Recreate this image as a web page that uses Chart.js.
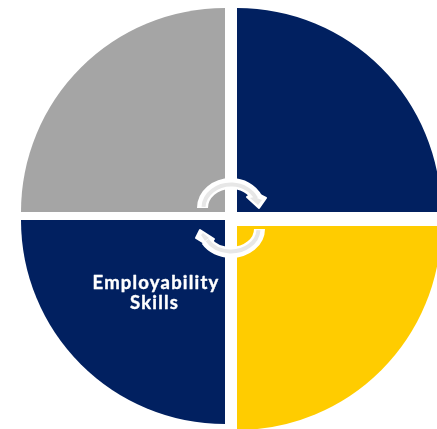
<!DOCTYPE html>
<html>
<head>
<meta charset="utf-8">
<title>Employability Skills</title>
<script src="https://cdn.jsdelivr.net/npm/chart.js@4"></script>
<style>
  html, body { margin: 0; padding: 0; background: #fff; overflow: hidden; }
  #myChart { display: block; }
</style>
</head>
<body>
<canvas id="myChart" width="437" height="429"></canvas>
<script>
var categories = ['', '', 'Employability Skills', ''];
var values = [25, 25, 25, 25];
var colors = ['#012060', '#FFCC00', '#012060', '#A5A5A5'];
var labelLines = ['Employability', 'Skills'];

// how far each quadrant is pulled from the middle of the canvas
var shiftX = [18.5, 18.5, 6.5, 6.5];
var shiftY = [-2.5, 11.5, 5.5, -2.5];

// moves each slice on its own, the built in offset only goes along the diagonal
var quadrants = {
    id: 'quadrants',
    beforeDatasetDraw: function(chart) {
        var arcs = chart.getDatasetMeta(0).data;
        arcs.forEach(function(arc, i) {
            if (arc.$moved) return;
            arc.x += shiftX[i];
            arc.y += shiftY[i];
            arc.$moved = true;
        });
    }
};

function drawArrow(ctx, cx, cy, rx, ry, from, to, head, core) {
    function poly(p) {
        ctx.beginPath();
        ctx.moveTo(p[0], p[1]);
        for (var i = 2; i < p.length; i += 2) ctx.lineTo(p[i], p[i + 1]);
        ctx.closePath();
    }
    ctx.lineJoin = 'round';
    ctx.strokeStyle = '#fff';
    ctx.fillStyle = '#fff';
    ctx.lineWidth = 11;
    ctx.beginPath();
    ctx.ellipse(cx, cy, rx, ry, 0, from, to);
    ctx.stroke();
    ctx.lineWidth = 2;
    poly(head);
    ctx.stroke();
    ctx.fill();

    // grey core of the band and of the head
    ctx.strokeStyle = '#E7E7E7';
    ctx.fillStyle = '#E7E7E7';
    ctx.lineWidth = 4;
    ctx.beginPath();
    ctx.ellipse(cx, cy, rx - 1, ry - 1, 0, from + 0.05, to);
    ctx.stroke();
    poly(core);
    ctx.fill();
}

var overlay = {
    id: 'overlay',
    afterDatasetsDraw: function(chart) {
        var ctx = chart.ctx;
        ctx.save();

        drawArrow(ctx, 231, 208, 28.5, 24.5, Math.PI, -0.42 + Math.PI * 2,
            [247, 197, 254, 192, 266, 198, 259, 208],
            [250, 198, 254, 197, 262, 200, 258, 205]);
        drawArrow(ctx, 231, 229, 28.5, 23.5, 0, 2.62,
            [200, 230, 196, 238, 209, 246, 214, 239],
            [201, 235, 205, 241, 209, 238, 203, 233]);

        ctx.fillStyle = '#fff';
        ctx.strokeStyle = '#fff';
        ctx.lineWidth = 0.4;
        ctx.textAlign = 'center';
        ctx.textBaseline = 'alphabetic';
        ctx.font = 'bold 18.5px Lato';
        ctx.letterSpacing = '1.2px';
        labelLines.forEach(function(line, i) {
            var x = i == 0 ? 156 : 154.5;
            var y = i == 0 ? 289 : 308.5;
            ctx.fillText(line, x, y);
            ctx.strokeText(line, x, y);
        });
        ctx.restore();
    }
};

var ctx = document.getElementById('myChart').getContext('2d');

var myChart = new Chart(ctx, {
    type: 'pie',
    data: {
        labels: categories,
        datasets: [{
            data: values,
            backgroundColor: colors,
            borderWidth: 0
        }]
    },
    options: {
        responsive: false,
        animation: false,
        radius: 204,
        plugins: {
            legend: { display: false },
            tooltip: { enabled: false }
        }
    },
    plugins: [quadrants, overlay]
});
</script>
</body>
</html>
